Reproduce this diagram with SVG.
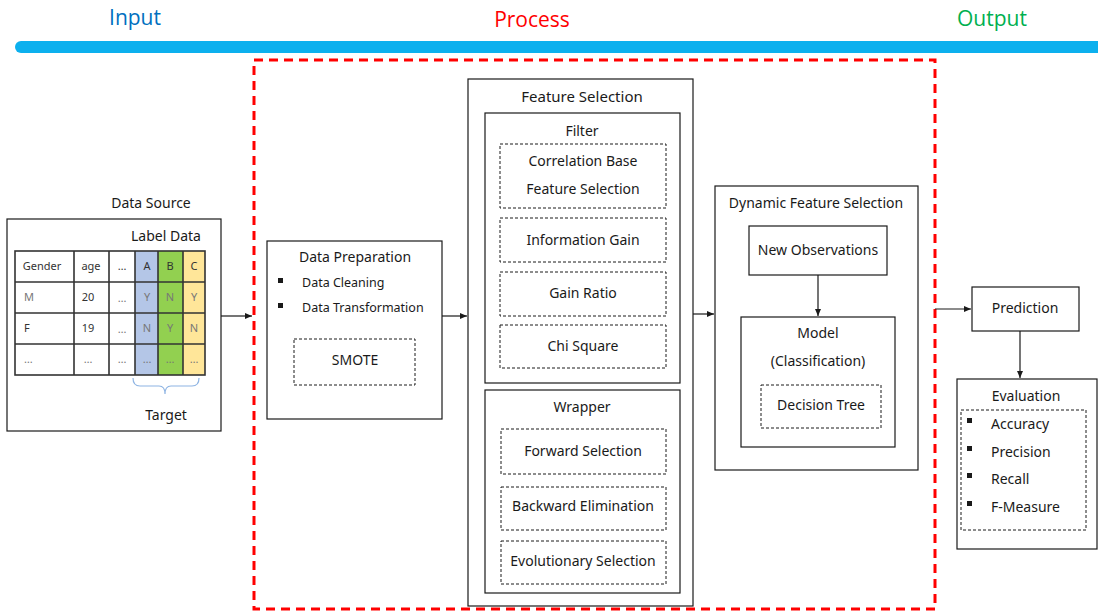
<svg xmlns="http://www.w3.org/2000/svg" width="1098" height="611" viewBox="0 0 1098 611">
<style>
text{font-family:"Noto Sans","Open Sans","DejaVu Sans",sans-serif;font-size:14px;fill:#1a1a1a;text-anchor:middle;dominant-baseline:middle}
.box{fill:#fff;stroke:#1a1a1a;stroke-width:1.2}
.dash{fill:none;stroke:#1a1a1a;stroke-width:1;stroke-dasharray:3 2}
.hd{font-size:21px;font-family:"Open Sans","Noto Sans",sans-serif}
.tc{font-size:11px;fill:#333}
.tg{font-size:11px;fill:#777}
.cell{stroke:#333;stroke-width:1.6;fill:none}
.lft{text-anchor:start}
.conn{stroke:#1a1a1a;stroke-width:1.2;fill:none;marker-end:url(#ah)}
</style>
<defs>
<marker id="ah" markerWidth="8" markerHeight="8" refX="7" refY="4" orient="auto" markerUnits="userSpaceOnUse">
<path d="M0,1 L7,4 L0,7 Z" fill="#1a1a1a"/>
</marker>
</defs>
<rect width="1098" height="611" fill="#fff"/>
<g id="header">
<text class="hd" x="135" y="19" style="fill:#0070C0">Input</text>
<text class="hd" x="532" y="21" style="fill:#FF0000">Process</text>
<text class="hd" x="992" y="20" style="fill:#00B050">Output</text>
<path d="M21,41 H1098 V53 H21 A6,6 0 0 1 15,47 A6,6 0 0 1 21,41 Z" fill="#0CB0EE"/>
</g>
<rect id="process-frame" x="254" y="60" width="681" height="549" fill="none" stroke="#FF0000" stroke-width="3" stroke-dasharray="9 6"/>
<g id="data-source">
<text x="151" y="204">Data Source</text>
<rect class="box" x="7" y="219" width="214" height="212"/>
<text x="166" y="237">Label Data</text>
<rect x="135" y="251" width="23" height="124" fill="#B4C6E7"/>
<rect x="158" y="251" width="25" height="124" fill="#92D050"/>
<rect x="183" y="251" width="22" height="124" fill="#FFE699"/>
<rect class="cell" x="15" y="251" width="190" height="124"/>
<path class="cell" d="M15,282H205M15,313H205M15,344H205M74,251V375M109,251V375M135,251V375M158,251V375M183,251V375"/>
<text class="tc" x="42" y="267">Gender</text><text class="tc" x="91" y="267">age</text><text class="tc" x="122" y="267">…</text><text class="tc" x="147" y="267">A</text><text class="tc" x="170" y="267">B</text><text class="tc" x="194" y="267">C</text>
<text class="tg lft" x="24" y="298">M</text><text class="tc" x="88" y="298">20</text><text class="tg" x="122" y="299">…</text><text class="tg" x="147" y="298">Y</text><text class="tg" x="170" y="298">N</text><text class="tg" x="194" y="298">Y</text>
<text class="tc lft" x="24" y="329">F</text><text class="tc" x="88" y="329">19</text><text class="tg" x="122" y="330">…</text><text class="tg" x="147" y="329">N</text><text class="tg" x="170" y="329">Y</text><text class="tg" x="194" y="329">N</text>
<text class="tg lft" x="24" y="360">…</text><text class="tg" x="88" y="360">…</text><text class="tg" x="122" y="360">…</text><text class="tg" x="147" y="360">…</text><text class="tg" x="170" y="360">…</text><text class="tg" x="194" y="360">…</text>
<path d="M133,378 Q133,386 140,386 H159 Q165,386 165,394 Q165,386 171,386 H192 Q199,386 199,378" fill="none" stroke="#8EB4E3" stroke-width="1.2"/>
<text x="166" y="416">Target</text>
</g>
<g id="data-preparation">
<rect class="box" x="267" y="241" width="175" height="178"/>
<text x="355" y="258">Data Preparation</text>
<rect x="278" y="278" width="5" height="5" fill="#1a1a1a"/>
<rect x="278" y="303" width="5" height="5" fill="#1a1a1a"/>
<text class="lft" x="302" y="284" style="font-size:12.5px">Data Cleaning</text>
<text class="lft" x="302" y="309" style="font-size:12.5px">Data Transformation</text>
<rect class="dash" x="294" y="339" width="121" height="46"/>
<text x="355" y="361">SMOTE</text>
</g>
<g id="feature-selection">
<rect class="box" x="468" y="79" width="225" height="527"/>
<text x="582" y="98" style="font-size:15px">Feature Selection</text>
<g id="filter">
<rect class="box" x="485" y="113" width="195" height="270"/>
<text x="582" y="132">Filter</text>
<rect class="dash" x="500" y="144" width="166" height="64"/>
<text x="583" y="162">Correlation Base</text>
<text x="583" y="190">Feature Selection</text>
<rect class="dash" x="500" y="218" width="166" height="44"/>
<text x="583" y="241">Information Gain</text>
<rect class="dash" x="500" y="272" width="166" height="44"/>
<text x="583" y="294">Gain Ratio</text>
<rect class="dash" x="500" y="325" width="166" height="43"/>
<text x="583" y="347">Chi Square</text>
</g>
<g id="wrapper">
<rect class="box" x="485" y="390" width="195" height="203"/>
<text x="582" y="408">Wrapper</text>
<rect class="dash" x="501" y="429" width="165" height="45"/>
<text x="583" y="452">Forward Selection</text>
<rect class="dash" x="501" y="487" width="165" height="43"/>
<text x="583" y="507">Backward Elimination</text>
<rect class="dash" x="501" y="541" width="165" height="43"/>
<text x="583" y="562">Evolutionary Selection</text>
</g>
</g>
<g id="dynamic-feature-selection">
<rect class="box" x="715" y="186" width="203" height="284"/>
<text x="816" y="204">Dynamic Feature Selection</text>
<g id="new-observations">
<rect class="box" x="749" y="226" width="138" height="49"/>
<text x="818" y="251">New Observations</text>
</g>
<g id="model">
<rect class="box" x="741" y="317" width="154" height="130"/>
<text x="818" y="334">Model</text>
<text x="818" y="362">(Classification)</text>
<rect class="dash" x="761" y="385" width="120" height="43"/>
<text x="821" y="406">Decision Tree</text>
</g>
</g>
<g id="prediction">
<rect class="box" x="972" y="287" width="107" height="44"/>
<text x="1025" y="309">Prediction</text>
</g>
<g id="evaluation">
<rect class="box" x="957" y="379" width="140" height="170"/>
<text x="1026" y="397">Evaluation</text>
<rect class="dash" x="961" y="410" width="125" height="120"/>
<rect x="967" y="418" width="5" height="5" fill="#1a1a1a"/>
<rect x="967" y="446" width="5" height="5" fill="#1a1a1a"/>
<rect x="967" y="473" width="5" height="5" fill="#1a1a1a"/>
<rect x="967" y="501" width="5" height="5" fill="#1a1a1a"/>
<text class="lft" x="991" y="425">Accuracy</text>
<text class="lft" x="991" y="453">Precision</text>
<text class="lft" x="991" y="480">Recall</text>
<text class="lft" x="991" y="508">F-Measure</text>
</g>
<g id="connectors">
<path class="conn" d="M221,316 H252"/>
<path class="conn" d="M442,316 H467"/>
<path class="conn" d="M693,314 H714"/>
<path class="conn" d="M818,275 V316"/>
<path class="conn" d="M935,309 H971"/>
<path class="conn" d="M1020,331 V378"/>
</g>
</svg>
